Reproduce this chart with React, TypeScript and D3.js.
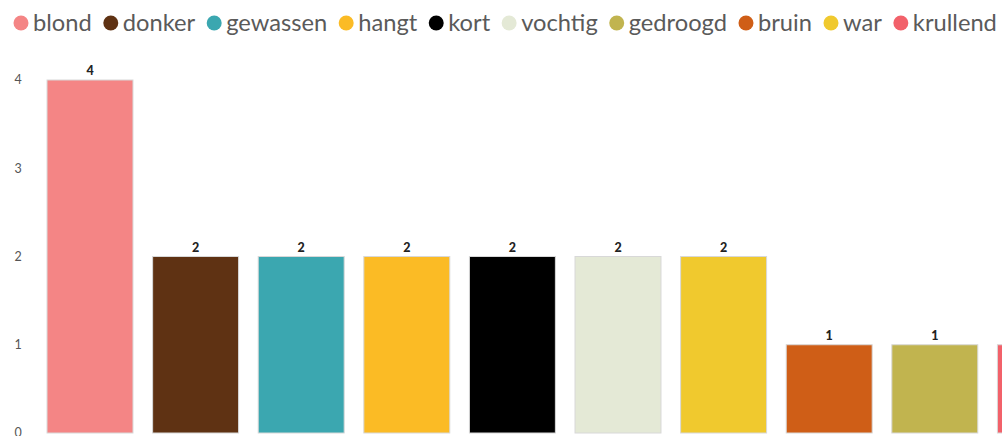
import React, { useEffect, useRef } from "react";
import * as d3 from "d3";

const legendNames = ["blond", "donker", "gewassen", "hangt", "kort", "vochtig", "gedroogd", "bruin", "war", "krullend"];
const legendColors = ["#F48585", "#5F3213", "#3BA7B0", "#FBBB25", "#000000", "#E4E9D6", "#C1B44F", "#CF5E17", "#F0C92E", "#F2616A"];

const barNames = ["blond", "donker", "gewassen", "hangt", "kort", "vochtig", "war", "bruin", "gedroogd", "krullend"];
const barValues = [4, 2, 2, 2, 2, 2, 2, 1, 1, 1];
const yTicks = [0, 1, 2, 3, 4];

export default function App() {
  const ref = useRef<SVGSVGElement>(null);

  useEffect(() => {
    const svg = d3.select(ref.current);
    svg.selectAll("*").remove();
    const color = d3.scaleOrdinal<string, string>().domain(legendNames).range(legendColors);

    const x = d3.scaleBand<string>().domain(barNames).range([37.2, 37.2 + 1056]).paddingInner(0.186).paddingOuter(0.093);
    const y = d3.scaleLinear().domain([0, 4]).range([433, 80]);

    svg.append("g").selectAll("text").data(yTicks).join("text")
      .attr("x", 18).attr("y", (d) => y(d)).attr("dy", "0.35em")
      .attr("text-anchor", "middle")
      .attr("font-family", "Lato, sans-serif").attr("font-size", 12.5).attr("fill", "#555")
      .text((d) => String(d));

    const data = barNames.map((n, i) => ({ n, v: barValues[i] }));
    svg.append("g").selectAll("rect").data(data).join("rect")
      .attr("x", (d) => x(d.n)!).attr("y", (d) => y(d.v))
      .attr("width", x.bandwidth()).attr("height", (d) => y(0) - y(d.v))
      .attr("fill", (d) => color(d.n)).attr("stroke", "#d8d8d8").attr("stroke-width", 1);

    svg.append("g").selectAll("text").data(data).join("text")
      .attr("x", (d) => x(d.n)! + x.bandwidth() / 2).attr("y", (d) => y(d.v) - 5)
      .attr("text-anchor", "middle")
      .attr("font-family", "Lato, sans-serif").attr("font-weight", 900).attr("font-size", 12.5).attr("fill", "#222")
      .text((d) => String(d.v));

    const lg = svg.append("g");
    let cx = 21;
    legendNames.forEach((n) => {
      lg.append("circle").attr("cx", cx).attr("cy", 23).attr("r", 7.5).attr("fill", color(n));
      const t = lg.append("text").attr("x", cx + 12).attr("y", 23).attr("dy", "0.35em")
        .attr("font-family", "Lato, sans-serif").attr("font-size", 23.7).attr("fill", "#5a5a5a").text(n);
      const w = (t.node() as SVGTextElement).getComputedTextLength();
      cx = cx + 12 + w + 19;
    });
  }, []);

  return (
    <svg ref={ref} width={1002} height={436}
      style={{ position: "absolute", left: 0, top: 0, overflow: "hidden", background: "#fff" }} />
  );
}
